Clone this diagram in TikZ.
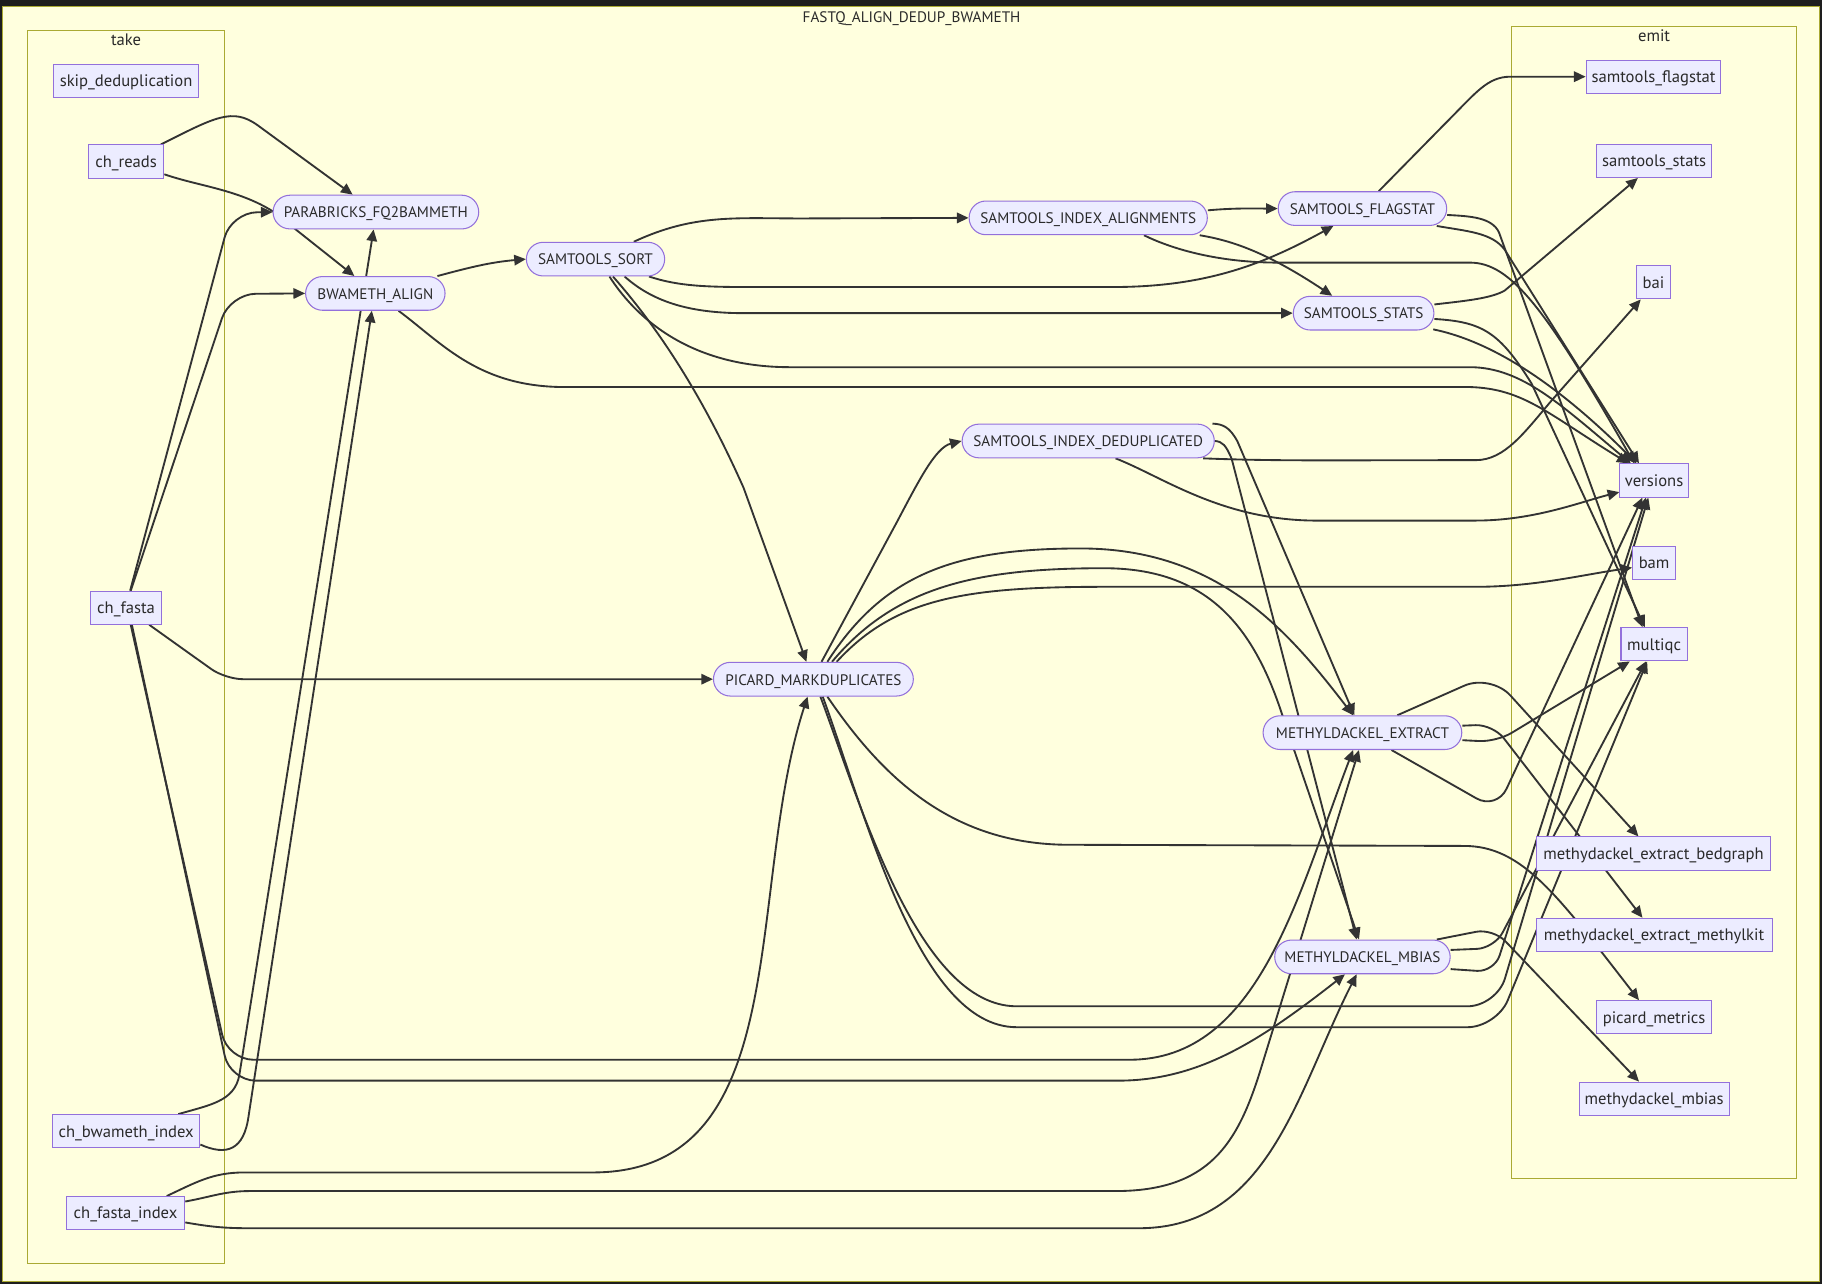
\documentclass[tikz,border=0pt]{standalone}
\usepackage{fontspec}
\setmainfont{PT Sans}
\usetikzlibrary{arrows.meta}
\pgfdeclarelayer{back}
\pgfdeclarelayer{edges}
\pgfsetlayers{back,edges,main}
\definecolor{bgy}{HTML}{FFFFDE}
\definecolor{clb}{HTML}{AAAA33}
\definecolor{nodef}{HTML}{ECECFF}
\definecolor{nodeb}{HTML}{9370DB}
\definecolor{edgec}{HTML}{333333}
\definecolor{txt}{HTML}{2A2A2A}
\definecolor{frame}{HTML}{1E1E1E}
\tikzset{
  lbl/.style={font=\fontsize{14.3}{16}\selectfont, text=txt, inner sep=0pt, text height=10pt, text depth=0pt},
  ulbl/.style={lbl, font=\fontsize{13.1}{16}\selectfont},
  rbox/.style={lbl, draw=nodeb, fill=nodef, line width=0.9pt, minimum height=28.5pt},
  pbox/.style={ulbl, draw=nodeb, fill=nodef, line width=0.9pt, rounded corners=14.5pt, minimum height=29pt},
  cl/.style={draw=clb, line width=0.9pt, fill=bgy},
  edge/.style={draw=edgec, line width=1.6pt, -{Triangle[length=10pt,width=9pt]}},
}
\begin{document}
\begin{tikzpicture}[x=1pt,y=1pt]
\useasboundingbox (0,0) rectangle (1568,-1105);
% ---------- nodes ----------
\node[rbox, minimum width=125pt] (skip) at (108.5,-69.5) {skip\_deduplication};
\node[rbox, minimum width=65pt] (reads) at (108.5,-139) {ch\_reads};
\node[rbox, minimum width=61pt] (fasta) at (108.5,-523) {ch\_fasta};
\node[rbox, minimum width=127pt] (bidx) at (108.5,-973.5) {ch\_bwameth\_index};
\node[rbox, minimum width=102pt] (fidx) at (108,-1044) {ch\_fasta\_index};
\node[pbox, minimum width=177pt] (PAR) at (323.5,-182.5) {PARABRICKS\_FQ2BAMMETH};
\node[pbox, minimum width=120pt] (BW) at (323,-252.5) {BWAMETH\_ALIGN};
\node[pbox, minimum width=119pt] (SORT) at (512.5,-223) {SAMTOOLS\_SORT};
\node[pbox, minimum width=205pt] (IDA) at (936.5,-187.5) {SAMTOOLS\_INDEX\_ALIGNMENTS};
\node[pbox, minimum width=145pt] (FLAG) at (1172.5,-179.5) {SAMTOOLS\_FLAGSTAT};
\node[pbox, minimum width=121pt] (STATS) at (1173.5,-269.5) {SAMTOOLS\_STATS};
\node[pbox, minimum width=217pt] (IDD) at (936.5,-379.5) {SAMTOOLS\_INDEX\_DEDUPLICATED};
\node[pbox, minimum width=172pt] (PIC) at (700,-584.5) {PICARD\_MARKDUPLICATES};
\node[pbox, minimum width=171pt] (EXT) at (1172.5,-630.5) {METHYLDACKEL\_EXTRACT};
\node[pbox, minimum width=151pt] (MBI) at (1172.5,-823.5) {METHYLDACKEL\_MBIAS};
\node[rbox, minimum width=116pt] (sflag) at (1423,-66) {samtools\_flagstat};
\node[rbox, minimum width=99pt] (sstats) at (1423.5,-138.5) {samtools\_stats};
\node[rbox, minimum width=30pt] (bai) at (1423,-243) {bai};
\node[rbox, minimum width=59pt] (versions) at (1423.5,-413.5) {versions};
\node[rbox, minimum width=37pt] (bam) at (1423.5,-484.5) {bam};
\node[rbox, minimum width=57pt] (multiqc) at (1423.5,-554.5) {multiqc};
\node[rbox, minimum width=202pt] (bedgraph) at (1423,-734.5) {methydackel\_extract\_bedgraph};
\node[rbox, minimum width=203pt] (methylkit) at (1423.5,-804.5) {methydackel\_extract\_methylkit};
\node[rbox, minimum width=99pt] (pmetrics) at (1423.5,-875.5) {picard\_metrics};
\node[rbox, minimum width=129pt] (mmbias) at (1423.5,-945.5) {methydackel\_mbias};
% ---------- clusters ----------
\begin{pgfonlayer}{back}
\fill[frame] (0,0) rectangle (1568,-1105);
\draw[cl] (2,-5.5) rectangle (1566,-1103);
\draw[cl] (24,-26) rectangle (193,-1087);
\draw[cl] (1301,-22.5) rectangle (1546,-1014);
\node[ulbl] (ttitle) at (784.5,-14.5) {FASTQ\_ALIGN\_DEDUP\_BWAMETH};
\node[lbl] (ttake) at (108.5,-34) {take};
\node[lbl] (temit) at (1423.5,-30.5) {emit};
\end{pgfonlayer}
% ---------- edges ----------
\begin{pgfonlayer}{edges}
% take side
\draw[edge] ([xshift=-3pt]reads.north east) .. controls (185,-101) and (200,-92) .. (222,-108) -- ([xshift=-20pt]PAR.north);
\draw[edge] ([yshift=-11pt]reads.east) .. controls (170,-160) and (205,-163) .. (235,-182) -- ([xshift=-18pt]BW.north);
\draw[edge, rounded corners=22pt] ([xshift=3.5pt]fasta.north) -- (199,-183) -- (PAR.west);
\draw[edge, rounded corners=22pt] ([xshift=4pt]fasta.north) -- (198,-253) -- (BW.west);
\draw[edge, rounded corners=15pt] ([xshift=-11pt]fasta.south east) -- (194,-584.5) -- (PIC.west);
\draw[edge, rounded corners=22pt] ([xshift=4pt]fasta.south) -- (196,-912) -- (950,-912) to[out=0,in=249] ([xshift=-8pt]EXT.south);
\draw[edge, rounded corners=22pt] ([xshift=5pt]fasta.south) -- (198,-930) -- (940,-930) to[out=0,in=218] ([xshift=-15pt]MBI.south);
\draw[edge] ([xshift=-19pt]bidx.north east) .. controls (180,-951) and (202,-948) .. (206,-925) -- ([xshift=-2pt]PAR.south);
\draw[edge] ([yshift=-11.5pt]bidx.east) .. controls (195,-995) and (210,-990) .. (214,-960) -- ([xshift=-3pt]BW.south);
\draw[edge] ([xshift=-16pt]fidx.north east) to[out=25,in=180] (210,-1009) -- (510,-1009) to[out=0,in=252] ([xshift=-5pt]PIC.south);
\draw[edge] ([yshift=10pt]fidx.east) to[out=10,in=180] (215,-1025) -- (960,-1025) .. controls (1040,-1025) and (1065,-985) .. (1085,-920) -- ([xshift=-3pt]EXT.south);
\draw[edge] ([yshift=-8pt]fidx.east) to[out=-10,in=180] (215,-1057) -- (980,-1057) to[out=0,in=243] ([xshift=-5pt]MBI.south);
% alignment
\draw[edge] ([xshift=-7pt]BW.north east) to[out=15,in=185] (SORT.west);
\draw[edge] ([xshift=20pt]BW.south) .. controls (380,-295) and (410,-331) .. (480,-333) -- (1260,-333) .. controls (1310,-333) and (1330,-355) .. ([xshift=-22pt]versions.north);
% sort
\draw[edge] ([xshift=-27pt]SORT.north east) to[out=25,in=180] (690,-188) -- (IDA.west);
\draw[edge] ([xshift=46pt]SORT.south) .. controls (580,-245) and (600,-247) .. (640,-247) -- (958,-247) .. controls (1040,-247) and (1090,-226) .. ([xshift=-25pt]FLAG.south);
\draw[edge] ([xshift=25pt]SORT.south) .. controls (560,-258) and (590,-269.5) .. (640,-269.5) -- (STATS.west);
\draw[edge] ([xshift=12pt]SORT.south) .. controls (545,-270) and (590,-316) .. (680,-316) -- (1265,-316) .. controls (1310,-316) and (1345,-350) .. ([xshift=-20pt]versions.north);
\draw[edge] ([xshift=15pt]SORT.south) .. controls (560,-275) and (600,-330) .. (640,-420) -- ([xshift=-6pt]PIC.north);
% index alignments
\draw[edge] ([yshift=6.5pt]IDA.east) to[out=5,in=180] (FLAG.west);
\draw[edge] ([xshift=-7pt]IDA.south east) .. controls (1060,-207) and (1090,-217) .. ([xshift=-27pt]STATS.north);
\draw[edge] ([xshift=48pt]IDA.south) .. controls (1010,-215) and (1050,-226) .. (1100,-226) -- (1265,-226) .. controls (1300,-226) and (1330,-265) .. ([xshift=-17pt]versions.north);
% flagstat / stats
\draw[edge] ([xshift=14pt]FLAG.north) -- (1245,-105) .. controls (1270,-80) and (1280,-66) .. (1300,-66) -- (sflag.west);
\draw[edge] ([xshift=-9pt]FLAG.south east) .. controls (1262,-199) and (1284,-200) .. (1295,-215) -- ([xshift=-13pt]versions.north);
\draw[edge] ([yshift=-5.5pt]FLAG.east) .. controls (1265,-186) and (1284,-187) .. (1290,-200) -- ([xshift=-10pt]multiqc.north);
\draw[edge] ([yshift=7.5pt]STATS.east) .. controls (1260,-259) and (1283,-257) .. (1295,-250) -- ([xshift=-14pt]sstats.south);
\draw[edge] ([xshift=-1pt,yshift=1pt]STATS.south east) .. controls (1275,-292) and (1330,-320) .. ([xshift=-15pt]versions.north);
\draw[edge] ([yshift=-5pt]STATS.east) .. controls (1275,-277) and (1290,-285) .. (1318,-330) -- ([xshift=-8pt]multiqc.north);
% index dedup
\draw[edge] ([xshift=-10pt]IDD.south east) .. controls (1100,-397) and (1150,-396) .. (1270,-396) .. controls (1295,-396) and (1312,-372) .. (1335,-345) -- ([xshift=-11pt]bai.south);
\draw[edge] ([xshift=23.5pt]IDD.south) .. controls (1000,-410) and (1050,-447) .. (1130,-448) -- (1270,-448) .. controls (1320,-448) and (1360,-432) .. ([yshift=-10pt]versions.west);
\draw[edge] ([xshift=-2pt]IDD.north east) .. controls (1052,-365) and (1058,-367) .. (1065,-380) -- ([xshift=-7pt]EXT.north);
\draw[edge] (IDD.east) .. controls (1052,-380) and (1055,-383) .. (1060,-395) -- ([xshift=-5pt]MBI.north);
% picard
\draw[edge] ([xshift=7pt]PIC.north) -- (772,-449) .. controls (790,-415) and (805,-385) .. (IDD.west);
\draw[edge] ([xshift=12pt]PIC.north) .. controls (760,-495) and (820,-472) .. (930,-472) .. controls (1050,-472) and (1110,-545) .. ([xshift=-8pt]EXT.north);
\draw[edge] ([xshift=16pt]PIC.north) .. controls (770,-505) and (840,-489) .. (950,-489) .. controls (1040,-489) and (1080,-540) .. (1105,-620) -- ([xshift=-3pt]MBI.north);
\draw[edge] ([xshift=20pt]PIC.north) .. controls (770,-515) and (830,-505) .. (950,-505) -- (1270,-505) .. controls (1320,-505) and (1360,-495) .. ([yshift=-4pt]bam.west);
\draw[edge] ([xshift=12pt]PIC.south) .. controls (760,-670) and (820,-727) .. (920,-727) -- (1260,-728) .. controls (1310,-728) and (1340,-770) .. ([xshift=-13pt]pmetrics.north);
\draw[edge, rounded corners=25pt] ([xshift=6pt]PIC.south) .. controls (740,-690) and (790,-866) .. (900,-866) -- (1288,-866) -- ([xshift=-5pt]versions.south);
\draw[edge, rounded corners=25pt] ([xshift=8pt]PIC.south) .. controls (745,-700) and (790,-884) .. (900,-884) -- (1288,-884) -- ([xshift=-6pt]multiqc.south);
% methyldackel extract
\draw[edge, rounded corners=25pt] ([xshift=30pt]EXT.north) -- (1283,-580) -- ([xshift=-13pt]bedgraph.north);
\draw[edge, rounded corners=15pt] ([yshift=6pt]EXT.east) -- (1285,-623.5) -- ([xshift=-10pt]methylkit.north);
\draw[edge, rounded corners=15pt] ([yshift=-6.5pt]EXT.east) -- (1288,-638.5) -- ([xshift=8pt]multiqc.south west);
\draw[edge, rounded corners=20pt] ([xshift=25pt]EXT.south) -- (1288,-697) -- ([xshift=-10pt]versions.south);
% methyldackel mbias
\draw[edge, rounded corners=15pt] ([xshift=-12pt]MBI.north east) -- (1285,-799) -- ([xshift=-13pt]mmbias.north);
\draw[edge, rounded corners=15pt] ([yshift=6pt]MBI.east) -- (1286,-816) -- ([xshift=-7pt]multiqc.south);
\draw[edge, rounded corners=15pt] ([yshift=-10.5pt]MBI.east) -- (1286,-836.5) -- ([xshift=-7pt]versions.south);
\end{pgfonlayer}
\end{tikzpicture}
\end{document}
